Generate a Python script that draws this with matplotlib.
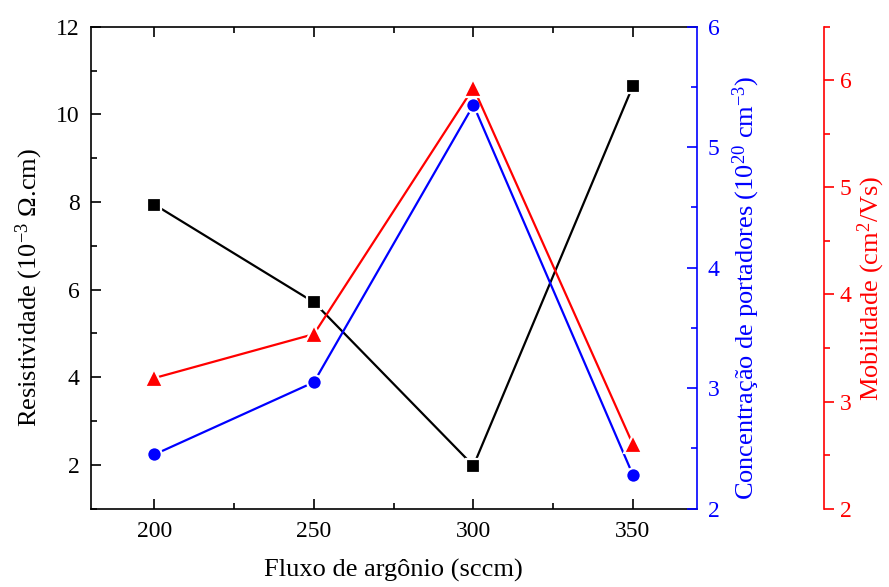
import matplotlib
matplotlib.use('Agg')
import matplotlib.pyplot as plt
from matplotlib.ticker import MultipleLocator

# dados
fluxo = [200, 250, 300, 350]
resistividade = [7.94, 5.71, 1.98, 10.65]
concentracao = [2.45, 3.05, 5.35, 2.28]
mobilidade = [3.22, 3.63, 5.93, 2.60]

plt.rcParams['font.family'] = ['Liberation Serif', 'DejaVu Serif']
plt.rcParams['mathtext.fontset'] = 'custom'
plt.rcParams['mathtext.rm'] = 'Liberation Serif'
plt.rcParams['mathtext.it'] = 'Liberation Serif:italic'
plt.rcParams['font.size'] = 17

fig = plt.figure(figsize=(8.89, 5.87), dpi=100)
ax = fig.add_axes([0.102, 0.1334, 0.6817, 0.8211])
ax2 = ax.twinx()
ax3 = ax.twinx()
ax3.spines['right'].set_position(('axes', 1.2106))

estilo = dict(lw=1.6, markeredgecolor='white', markeredgewidth=1.6)
ax.plot(fluxo, resistividade, color='black', marker='s', markersize=10, **estilo)
ax2.plot(fluxo, concentracao, color='blue', marker='o', markersize=10.5, **estilo)
ax3.plot(fluxo, mobilidade, color='red', marker='^', markersize=12.5, **estilo)

ax.set_xlim(180, 370)
ax.set_ylim(1, 12)
ax2.set_ylim(2, 6)
ax3.set_ylim(2, 6.5)

ax.xaxis.set_major_locator(MultipleLocator(50))
ax.xaxis.set_minor_locator(MultipleLocator(25))
ax.yaxis.set_major_locator(MultipleLocator(2))
ax.yaxis.set_minor_locator(MultipleLocator(1))
ax2.yaxis.set_major_locator(MultipleLocator(1))
ax2.yaxis.set_minor_locator(MultipleLocator(0.5))
ax3.yaxis.set_major_locator(MultipleLocator(1))
ax3.yaxis.set_minor_locator(MultipleLocator(0.5))

for a in (ax, ax2, ax3):
    for s in a.spines.values():
        s.set_linewidth(1.2)

ax.tick_params(axis='x', which='both', direction='in', top=True, width=1.2, pad=9)
ax.tick_params(axis='y', which='both', direction='in', right=False, width=1.2, pad=8)
ax.tick_params(which='major', length=7)
ax.tick_params(which='minor', length=4)

for a, cor in ((ax2, 'blue'), (ax3, 'red')):
    a.spines['right'].set_color(cor)
    a.spines['top'].set_visible(False)
    a.spines['left'].set_visible(False)
    a.spines['bottom'].set_visible(False)
    a.tick_params(axis='y', which='both', direction='in', colors=cor, width=1.2, pad=8)
    a.tick_params(axis='y', which='major', length=7)
    a.tick_params(axis='y', which='minor', length=4)
ax3.tick_params(axis='y', which='both', direction='out', left=False)
ax3.tick_params(axis='y', which='major', length=7, pad=4)
ax3.tick_params(axis='y', which='minor', length=4)
ax.spines['right'].set_visible(False)

ax.set_xlabel('Fluxo de argônio (sccm)', fontsize=19, labelpad=12)
ax.set_ylabel(r'Resistividade (10$^{-3}$ Ω.cm)', fontsize=19, labelpad=8)
ax2.set_ylabel(r'Concentração de portadores (10$^{20}$ cm$^{-3}$)', fontsize=19,
               color='blue', labelpad=8)
ax3.set_ylabel(r'Mobilidade (cm$^{2}$/Vs)', fontsize=19, color='red', labelpad=3)

# os títulos dos eixos y ficam um pouco abaixo do centro
for a in (ax, ax2, ax3):
    a.yaxis.label.set_y(0.458)

fig.savefig('out.png', dpi=100)
